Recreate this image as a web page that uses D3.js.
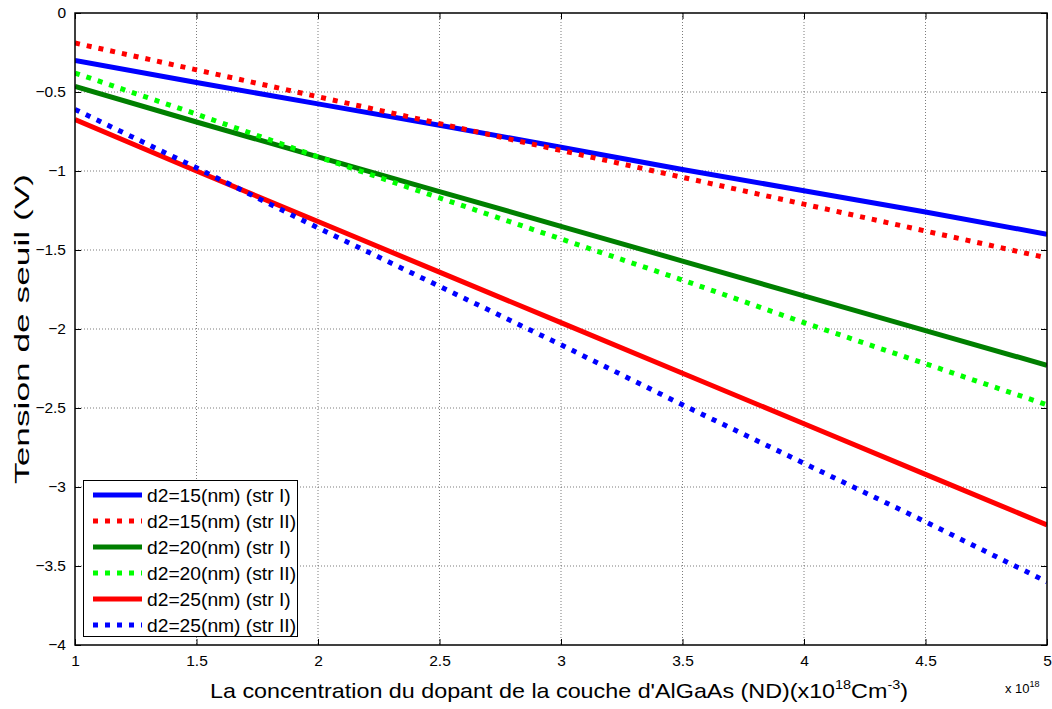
<!DOCTYPE html>
<html>
<head>
<meta charset="utf-8">
<title>Tension de seuil</title>
<script src="https://d3js.org/d3.v7.min.js"></script>
<style>
  body { margin: 0; background: #fff; font-family: "Liberation Sans", Arial, sans-serif; }
  .grid line { stroke: #444; stroke-width: 0.7; stroke-dasharray: 1,2; }
  .axis text { font-size: 15.5px; fill: #000; }
</style>
</head>
<body>
<script>
// donnees
var ndValues = [1, 1.5, 2, 2.5, 3, 3.5, 4, 4.5, 5];
var d15strI  = [-0.30, -0.44, -0.575, -0.71, -0.85, -0.99, -1.125, -1.26, -1.40];
var d15strII = [-0.19, -0.36, -0.53, -0.70, -0.87, -1.04, -1.21, -1.38, -1.55];
var d20strI  = [-0.465, -0.69, -0.91, -1.13, -1.35, -1.57, -1.79, -2.01, -2.23];
var d20strII = [-0.38, -0.64, -0.91, -1.17, -1.43, -1.69, -1.96, -2.22, -2.48];
var d25strI  = [-0.675, -1.00, -1.32, -1.64, -1.96, -2.28, -2.60, -2.92, -3.24];
var d25strII = [-0.61, -0.98, -1.36, -1.73, -2.10, -2.48, -2.85, -3.22, -3.60];
var seriesNames = ["d2=15(nm) (str I)", "d2=15(nm) (str II)", "d2=20(nm) (str I)",
                   "d2=20(nm) (str II)", "d2=25(nm) (str I)", "d2=25(nm) (str II)"];
var xTicks = [1, 1.5, 2, 2.5, 3, 3.5, 4, 4.5, 5];
var yTicks = [0, -0.5, -1, -1.5, -2, -2.5, -3, -3.5, -4];

var series = [
  {name: seriesNames[0], values: d15strI,  color: "#0000ff", dotted: false},
  {name: seriesNames[1], values: d15strII, color: "#ff0000", dotted: true},
  {name: seriesNames[2], values: d20strI,  color: "#007f00", dotted: false},
  {name: seriesNames[3], values: d20strII, color: "#00ff00", dotted: true},
  {name: seriesNames[4], values: d25strI,  color: "#ff0000", dotted: false},
  {name: seriesNames[5], values: d25strII, color: "#0000ff", dotted: true}
];

var W = 1052, H = 709;
var pL = 75, pT = 13, pR = 1047, pB = 645;

var svg = d3.select("body").append("svg").attr("width", W).attr("height", H);

var x = d3.scaleLinear().domain([1, 5]).range([pL, pR]);
var y = d3.scaleLinear().domain([-4, 0]).range([pB, pT]);

// grille pointillee
var grid = svg.append("g").attr("class", "grid");
grid.selectAll(".gx").data(xTicks.slice(1, -1)).enter().append("line")
  .attr("x1", function(d){ return x(d); }).attr("x2", function(d){ return x(d); })
  .attr("y1", pT).attr("y2", pB);
grid.selectAll(".gy").data(yTicks.slice(1, -1)).enter().append("line")
  .attr("x1", pL).attr("x2", pR)
  .attr("y1", function(d){ return y(d); }).attr("y2", function(d){ return y(d); });

// axes (graduations vers l'interieur)
svg.append("g").attr("class", "axis").attr("transform", "translate(0," + pB + ")")
  .call(d3.axisBottom(x).tickValues(xTicks).tickSizeInner(-6).tickSizeOuter(0).tickPadding(10)
        .tickFormat(d3.format("")))
  .call(function(g){ g.select(".domain").remove(); });
svg.append("g").attr("class", "axis").attr("transform", "translate(" + pL + ",0)")
  .call(d3.axisLeft(y).tickValues(yTicks).tickSizeInner(-6).tickSizeOuter(0).tickPadding(9)
        .tickFormat(d3.format("")))
  .call(function(g){ g.select(".domain").remove(); });
svg.append("g").attr("transform", "translate(0," + pT + ")")
  .call(d3.axisTop(x).tickValues(xTicks).tickSizeInner(-6).tickSizeOuter(0).tickFormat(""))
  .call(function(g){ g.select(".domain").remove(); });
svg.append("g").attr("transform", "translate(" + pR + ",0)")
  .call(d3.axisRight(y).tickValues(yTicks).tickSizeInner(-6).tickSizeOuter(0).tickFormat(""))
  .call(function(g){ g.select(".domain").remove(); });
svg.selectAll(".tick line").attr("stroke", "#000");

// courbes
var line = d3.line()
  .x(function(d, i){ return x(ndValues[i]); })
  .y(function(d){ return y(d); });

svg.append("defs").append("clipPath").attr("id", "clip")
  .append("rect").attr("x", pL).attr("y", pT).attr("width", pR - pL).attr("height", pB - pT);

svg.append("g").attr("clip-path", "url(#clip)").selectAll("path")
  .data(series).enter().append("path")
  .attr("d", function(d){ return line(d.values); })
  .attr("fill", "none")
  .attr("stroke", function(d){ return d.color; })
  .attr("stroke-width", 5)
  .attr("stroke-dasharray", function(d){ return d.dotted ? "5,7" : null; });

// cadre
svg.append("rect").attr("x", pL).attr("y", pT).attr("width", pR - pL).attr("height", pB - pT)
  .attr("fill", "none").attr("stroke", "#000").attr("stroke-width", 1.5);

// legende
var lg = svg.append("g");
lg.append("rect").attr("x", 83.5).attr("y", 480.5).attr("width", 214).attr("height", 156)
  .attr("fill", "#fff").attr("stroke", "#000").attr("stroke-width", 1);
series.forEach(function(s, i){
  var yy = 495 + i * 26;
  lg.append("line").attr("x1", 93).attr("x2", 142).attr("y1", yy).attr("y2", yy)
    .attr("stroke", s.color).attr("stroke-width", 5)
    .attr("stroke-dasharray", s.dotted ? "5,7" : null);
  lg.append("text").attr("transform", "translate(147," + (yy + 6.5) + ") scale(1.04,1)")
    .attr("font-size", "18.5px").text(s.name);
});

// titres des axes
svg.append("text").attr("transform", "translate(29," + ((pT + pB) / 2) + ") rotate(-90)")
  .attr("text-anchor", "middle").attr("font-size", "21px")
  .attr("textLength", 310).attr("lengthAdjust", "spacingAndGlyphs")
  .text("Tension de seuil (V)");

var xl = svg.append("text").attr("x", 210).attr("y", 698).attr("font-size", "21px")
  .attr("textLength", 698).attr("lengthAdjust", "spacingAndGlyphs");
xl.append("tspan").text("La concentration du dopant de la couche d'AlGaAs (ND)(x10");
xl.append("tspan").attr("dy", -9).attr("font-size", "13px").text("18");
xl.append("tspan").attr("dy", 9).text("Cm");
xl.append("tspan").attr("dy", -9).attr("font-size", "13px").text("-3");
xl.append("tspan").attr("dy", 9).text(")");

var ex = svg.append("text").attr("x", 1005).attr("y", 693).attr("font-size", "13px");
ex.append("tspan").text("x 10");
ex.append("tspan").attr("dy", -6).attr("font-size", "9px").text("18");
</script>
</body>
</html>
